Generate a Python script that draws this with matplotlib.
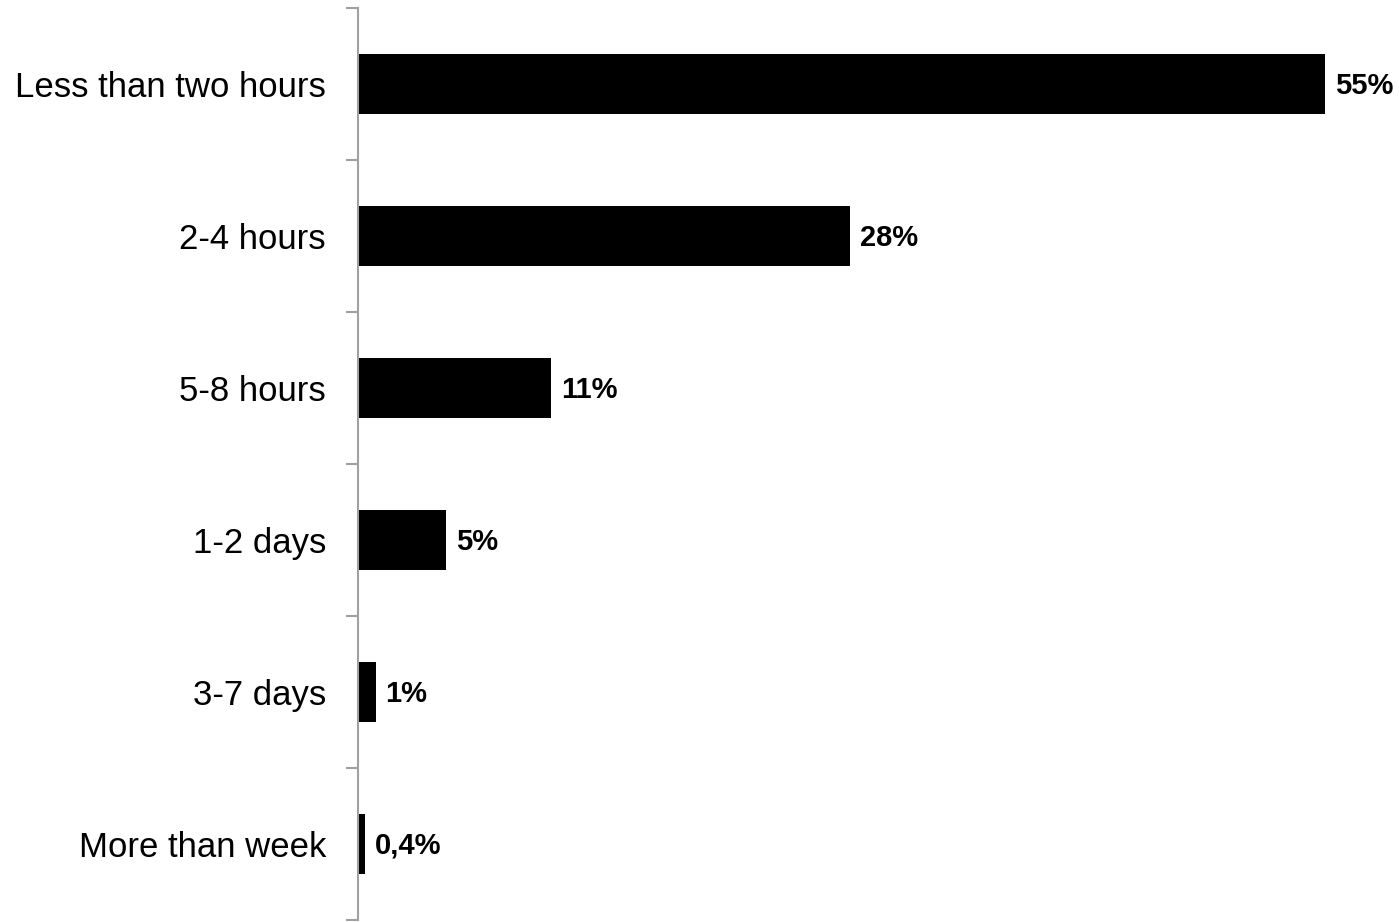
import numpy as np
import matplotlib.pyplot as plt

plt.rcParams['font.family'] = ['Liberation Sans', 'DejaVu Sans']

categories = ["Less than two hours", "2-4 hours", "5-8 hours", "1-2 days", "3-7 days", "More than week"]
values = [55, 28, 11, 5, 1, 0.4]
value_labels = ["55%", "28%", "11%", "5%", "1%", "0,4%"]

fig = plt.figure(figsize=(13.99, 9.22), dpi=100)
ax = fig.add_axes([358 / 1399, 2 / 922, 1 - 358 / 1399, 912 / 922])

y = np.arange(len(categories))
ax.barh(y, values, height=0.39, color="black")

for yi, v, lab in zip(y, values, value_labels):
    ax.text(v + 0.55, yi + 0.01, lab, va="center", ha="left", fontsize=21, fontweight="bold", clip_on=False)

ax.set_ylim(len(categories) - 0.5, -0.5)
ax.set_xlim(0, 59.2)

# boundary ticks (major) and category labels (minor)
ax.set_yticks(np.arange(-0.5, len(categories)), labels=[""] * (len(categories) + 1))
ax.set_yticks(y, labels=categories, minor=True)
ax.tick_params(axis="y", which="major", length=8.6, width=1.5, color="#a0a0a0")
ax.tick_params(axis="y", which="minor", length=0, pad=23, labelsize=25)

ax.set_xticks([])
for s in ["top", "right", "bottom"]:
    ax.spines[s].set_visible(False)
ax.spines["left"].set_color("#a0a0a0")
ax.spines["left"].set_linewidth(1.5)

fig.savefig("out.png", dpi=100)
